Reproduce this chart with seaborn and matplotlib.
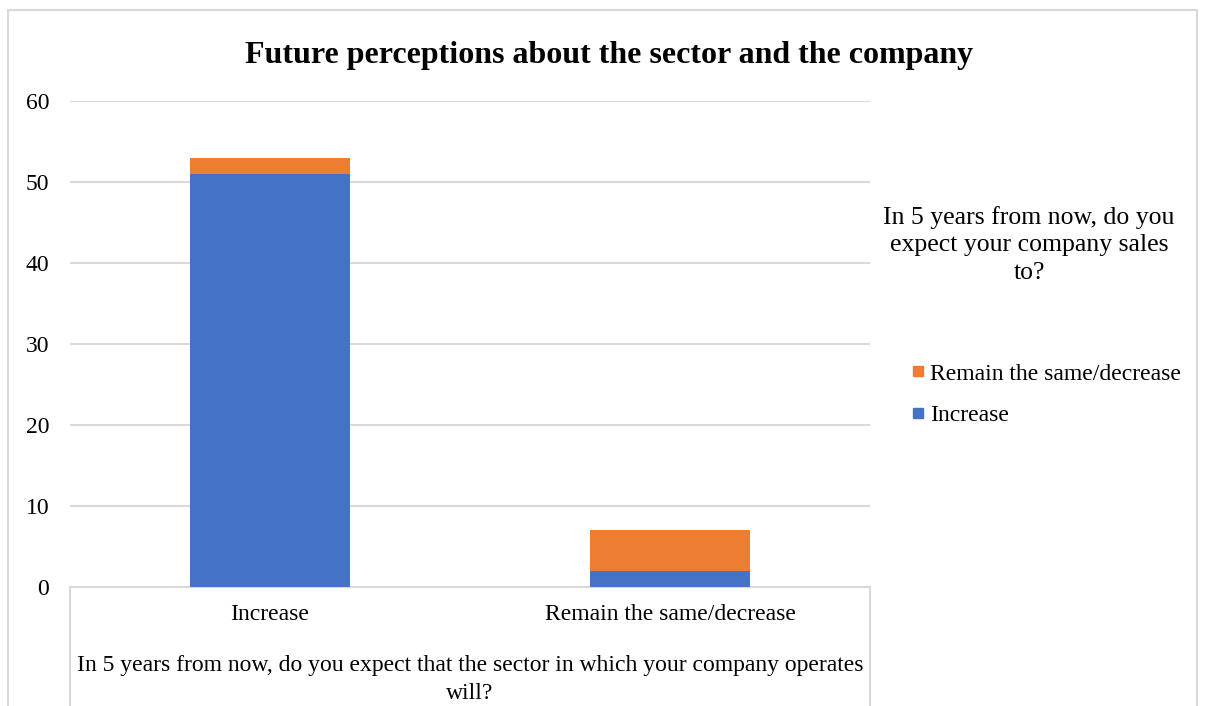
import matplotlib
matplotlib.use("Agg")
import matplotlib.pyplot as plt
from matplotlib.lines import Line2D
from matplotlib.patches import Rectangle
import seaborn as sns
import pandas as pd

# Survey responses: sector outlook (x) split by expected company sales (stack)
categories = ["Increase", "Remain the same/decrease"]
sales_increase = [51, 2]
sales_same_or_decrease = [2, 5]
y_ticks = [0, 10, 20, 30, 40, 50, 60]

BLUE = "#4472c4"
ORANGE = "#ed7d31"
GRID = "#d9d9d9"

sns.set_theme(style="white")
plt.rcParams["font.family"] = ["Liberation Serif", "DejaVu Serif"]
plt.rcParams["text.color"] = "black"

df = pd.DataFrame({
    "sector": categories,
    "increase": sales_increase,
    "same_decrease": sales_same_or_decrease,
})
df["total"] = df["increase"] + df["same_decrease"]

fig = plt.figure(figsize=(12.05, 7.06), dpi=100)
ax = fig.add_axes([70 / 1205, 1 - 587 / 706, 800 / 1205, 486 / 706])

# Stacked bars: full stack in orange, lower segment in blue on top of it
sns.barplot(data=df, x="sector", y="total", color=ORANGE, width=0.4,
            saturation=1, linewidth=0, ax=ax, zorder=3)
sns.barplot(data=df, x="sector", y="increase", color=BLUE, width=0.4,
            saturation=1, linewidth=0, ax=ax, zorder=4)

ax.set_xlim(-0.5, 1.5)
ax.set_ylim(0, 60)
ax.set_yticks(y_ticks)
ax.yaxis.grid(True, color=GRID, linewidth=1.5, zorder=0)
ax.set_axisbelow(True)
for side in ["top", "right", "left"]:
    ax.spines[side].set_visible(False)
ax.spines["bottom"].set_color(GRID)
ax.spines["bottom"].set_linewidth(1.5)
ax.tick_params(axis="both", length=0, labelsize=17, colors="black")
ax.tick_params(axis="y", pad=15)
ax.tick_params(axis="x", pad=12)
ax.set_ylabel("")
ax.set_xlabel("In 5 years from now, do you expect that the sector in which your company operates\nwill?",
              fontsize=17, labelpad=22, linespacing=1.4, color="black")

# Category table edges below the plot area
for xa in (0, 1):
    ax.add_line(Line2D([xa, xa], [0, -0.26], transform=ax.transAxes,
                       color=GRID, linewidth=1.5, clip_on=False))

# Chart frame
fig.patches.append(Rectangle((8 / 1205, -0.05), 1189 / 1205, 1 - 10 / 706 + 0.05,
                             transform=fig.transFigure, fill=False,
                             edgecolor=GRID, linewidth=1.5))

fig.text(609 / 1205, 1 - 56 / 706, "Future perceptions about the sector and the company",
         ha="center", va="center", fontsize=23, fontweight="bold")

# Legend
fig.text(1029 / 1205, 1 - 245 / 706, "In 5 years from now, do you\nexpect your company sales\nto?",
         ha="center", va="center", fontsize=18.5, linespacing=1.35)
handles = [
    Line2D([], [], marker="s", linestyle="", color=ORANGE, markersize=7.2),
    Line2D([], [], marker="s", linestyle="", color=BLUE, markersize=7.2),
]
fig.legend(handles, ["Remain the same/decrease", "Increase"],
           loc="upper left", bbox_to_anchor=(911 / 1205, 1 - 363 / 706),
           frameon=False, fontsize=17, handlelength=0.6, handletextpad=0.2,
           labelspacing=0.85, borderpad=0, borderaxespad=0)

fig.savefig("out.png", dpi=100)
